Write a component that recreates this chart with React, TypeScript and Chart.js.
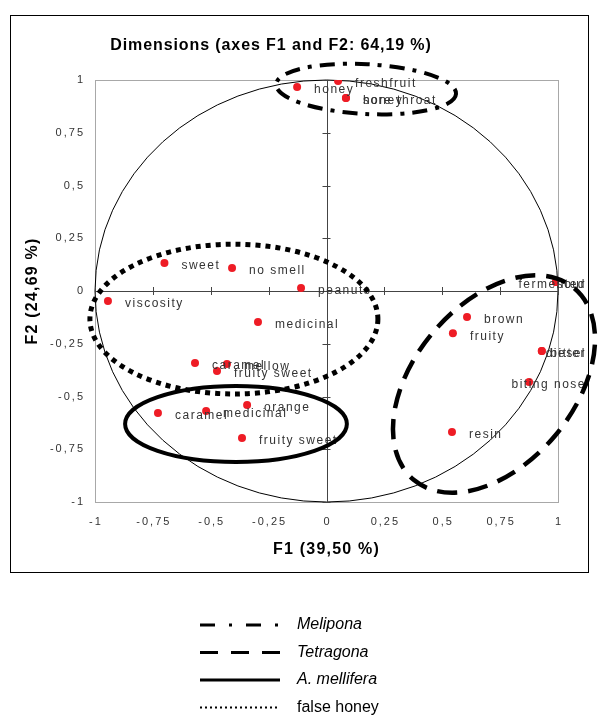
import React, { useEffect, useRef } from "react";
import { Chart, registerables } from "chart.js";

Chart.register(...registerables);

// ---- data ----
const attributes = [
  "honey", "freshfruit", "honey", "sore throat", "sweet", "no smell", "peanuts",
  "viscosity", "medicinal", "caramel", "mellow", "fruity sweet", "caramel",
  "medicinal", "orange", "fruity sweet", "brown", "fruity", "resin", "bitter",
  "diesel", "biting nose", "sour", "fermented",
];
const f1Values = [
  -0.127, 0.05, 0.084, 0.084, -0.70, -0.408, -0.11,
  -0.944, -0.296, -0.568, -0.43, -0.473, -0.728,
  -0.52, -0.343, -0.365, 0.607, 0.546, 0.542, 0.93,
  0.93, 0.875, 0.991, 0.991,
];
const f2Values = [
  0.967, 0.995, 0.915, 0.915, 0.133, 0.109, 0.014,
  -0.047, -0.147, -0.341, -0.346, -0.379, -0.578,
  -0.569, -0.54, -0.697, -0.123, -0.2, -0.668, -0.284,
  -0.284, -0.431, 0.043, 0.043,
];
const tickValues = [-1, -0.75, -0.5, -0.25, 0, 0.25, 0.5, 0.75, 1];
const tickLabels = ["-1", "-0,75", "-0,5", "-0,25", "0", "0,25", "0,5", "0,75", "1"];
const chartTitle = "Dimensions (axes F1 and F2: 64,19 %)";
const xTitle = "F1 (39,50 %)";
const yTitle = "F2 (24,69 %)";

// groups (ellipses in data units)
const groupNames = ["Melipona", "Tetragona", "A. mellifera", "false honey"];
const groupCx = [0.171, 0.7235, -0.391, -0.40];
const groupCy = [0.957, -0.441, -0.630, -0.133];
const groupRx = [0.389, 0.54, 0.479, 0.622];
const groupRy = [0.118, 0.379, 0.18, 0.355];
const groupTiltDeg = [3, -50, 0, 0];

// styles
const FONT = "'Liberation Sans', Arial, sans-serif";
const groupDash = [[15, 8, 4, 8], [20, 11], [], [5, 5]];
const groupWidth = [4, 4.5, 4, 5];
const legendDash = [[15, 14, 3, 14], [18, 13], [], [2, 3]];
const legendWidth = [3, 3, 3, 2];

const overlay = {
  id: "overlay",
  beforeDraw(chart: any) {
    const { ctx, width, height } = chart;
    ctx.save();
    ctx.fillStyle = "#ffffff";
    ctx.fillRect(0, 0, width, height);
    ctx.restore();
  },
  beforeDatasetsDraw(chart: any) {
    const { ctx, chartArea: ca } = chart;
    const x = chart.scales.x;
    const y = chart.scales.y;
    ctx.save();
    // outer frame
    ctx.strokeStyle = "#000";
    ctx.lineWidth = 1;
    ctx.strokeRect(10.5, 15.5, 578, 557);
    // plot border
    ctx.strokeStyle = "#a8a8a8";
    ctx.strokeRect(Math.round(ca.left) + 0.5, Math.round(ca.top) + 0.5, Math.round(ca.right - ca.left), Math.round(ca.bottom - ca.top));

    const cx = x.getPixelForValue(0);
    const cy = y.getPixelForValue(0);
    // correlation circle
    ctx.strokeStyle = "#000";
    ctx.lineWidth = 1;
    ctx.beginPath();
    ctx.ellipse(cx, cy, x.getPixelForValue(1) - cx, cy - y.getPixelForValue(1), 0, 0, Math.PI * 2);
    ctx.stroke();

    // center axes
    ctx.strokeStyle = "#444";
    ctx.beginPath();
    ctx.moveTo(x.getPixelForValue(-1), Math.round(cy) + 0.5);
    ctx.lineTo(x.getPixelForValue(1), Math.round(cy) + 0.5);
    ctx.moveTo(Math.round(cx) + 0.5, y.getPixelForValue(1));
    ctx.lineTo(Math.round(cx) + 0.5, y.getPixelForValue(-1));
    tickValues.forEach((v) => {
      const px = Math.round(x.getPixelForValue(v)) + 0.5;
      ctx.moveTo(px, cy - 4);
      ctx.lineTo(px, cy + 4);
      const py = Math.round(y.getPixelForValue(v)) + 0.5;
      ctx.moveTo(cx - 4, py);
      ctx.lineTo(cx + 4, py);
    });
    ctx.stroke();

    // tick labels
    ctx.fillStyle = "#333";
    ctx.font = `11px ${FONT}`;
    (ctx as any).letterSpacing = "2px";
    ctx.textBaseline = "middle";
    tickValues.forEach((v, i) => {
      const t = tickLabels[i];
      const w = ctx.measureText(t).width;
      ctx.textAlign = "left";
      ctx.fillText(t, x.getPixelForValue(v) - w / 2 + 1, ca.bottom + 20);
      ctx.fillText(t, ca.left - 10 - w, y.getPixelForValue(v));
    });

    // titles
    ctx.fillStyle = "#000";
    ctx.font = `bold 16px ${FONT}`;
    (ctx as any).letterSpacing = "0.9px";
    ctx.textAlign = "center";
    ctx.fillText(chartTitle, 271, 46);
    (ctx as any).letterSpacing = "1.2px";
    ctx.fillText(xTitle, (ca.left + ca.right) / 2, ca.bottom + 48);
    ctx.save();
    ctx.translate(33, (ca.top + ca.bottom) / 2);
    ctx.rotate(-Math.PI / 2);
    ctx.fillText(yTitle, 0, 0);
    ctx.restore();
    ctx.restore();
  },
  afterDatasetsDraw(chart: any) {
    const { ctx } = chart;
    const x = chart.scales.x;
    const y = chart.scales.y;
    ctx.save();
    // point labels
    ctx.fillStyle = "#333";
    ctx.font = `12px ${FONT}`;
    (ctx as any).letterSpacing = "1.5px";
    ctx.textAlign = "left";
    ctx.textBaseline = "middle";
    attributes.forEach((name, i) => {
      const px = x.getPixelForValue(f1Values[i]);
      const py = y.getPixelForValue(f2Values[i]);
      const w = ctx.measureText(name).width;
      const lx = Math.min(px + 17, 586 - w);
      ctx.fillText(name, lx, py + 3);
    });

    // group ellipses
    ctx.strokeStyle = "#000";
    groupNames.forEach((g, i) => {
      const ex = x.getPixelForValue(groupCx[i]);
      const ey = y.getPixelForValue(groupCy[i]);
      const rx = x.getPixelForValue(groupCx[i] + groupRx[i]) - ex;
      const ry = ey - y.getPixelForValue(groupCy[i] + groupRy[i]);
      ctx.lineWidth = groupWidth[i];
      ctx.setLineDash(groupDash[i]);
      ctx.beginPath();
      ctx.ellipse(ex, ey, rx, ry, (groupTiltDeg[i] * Math.PI) / 180, 0, Math.PI * 2);
      ctx.stroke();
    });

    // legend
    (ctx as any).letterSpacing = "0px";
    groupNames.forEach((g, i) => {
      const ly = 625 + i * 27.5;
      ctx.lineWidth = legendWidth[i];
      ctx.setLineDash(legendDash[i]);
      ctx.beginPath();
      ctx.moveTo(200, ly);
      ctx.lineTo(280, ly);
      ctx.stroke();
      ctx.setLineDash([]);
      ctx.fillStyle = "#000";
      ctx.font = `${i < 3 ? "italic " : ""}16px ${FONT}`;
      ctx.fillText(g, 297, ly);
    });
    ctx.restore();
  },
};

export default function App() {
  const ref = useRef<HTMLCanvasElement | null>(null);
  useEffect(() => {
    document.body.style.margin = "0";
    if (!ref.current) return;
    const chart = new Chart(ref.current, {
      type: "scatter",
      data: {
        datasets: [
          {
            data: f1Values.map((v, i) => ({ x: v, y: f2Values[i] })),
            pointRadius: 4,
            pointBackgroundColor: "#ee1c25",
            pointBorderWidth: 0,
            showLine: false,
          },
        ],
      },
      options: {
        responsive: false,
        animation: false,
        layout: { padding: { left: 95, right: 41, top: 80, bottom: 218 } },
        scales: {
          x: { type: "linear", min: -1, max: 1, display: false },
          y: { type: "linear", min: -1, max: 1, display: false },
        },
        plugins: { legend: { display: false }, tooltip: { enabled: false }, title: { display: false } },
      },
      plugins: [overlay],
    });
    return () => chart.destroy();
  }, []);
  return (
    <div style={{ width: 599, height: 720, position: "relative" }}>
      <canvas ref={ref} width={599} height={720} style={{ width: 599, height: 720, display: "block" }} />
    </div>
  );
}
